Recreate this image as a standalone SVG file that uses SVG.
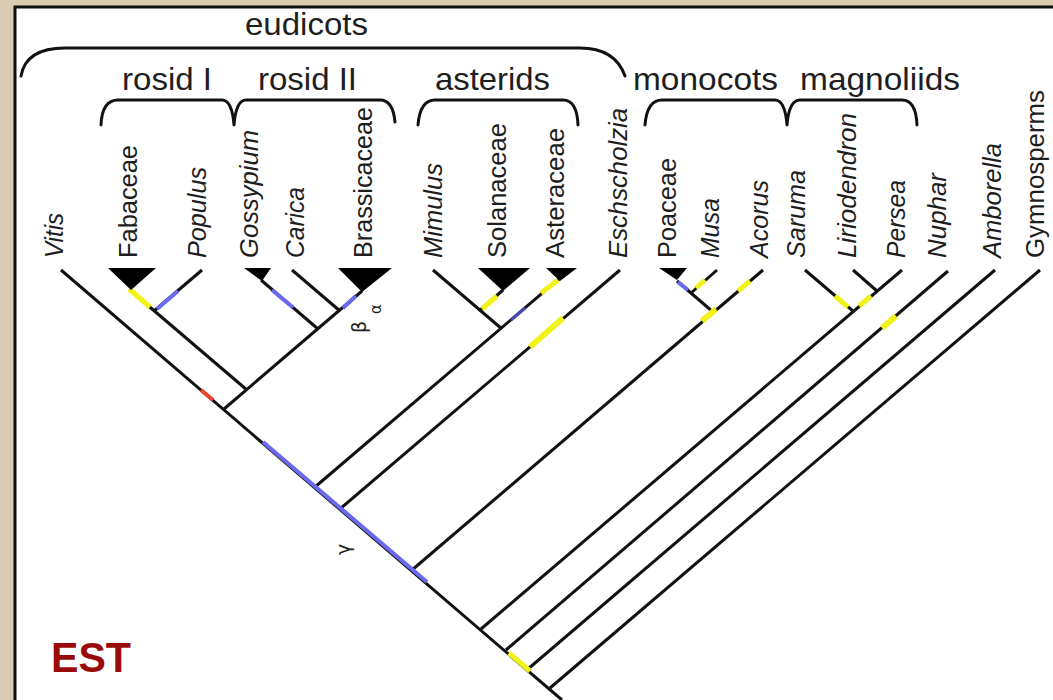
<svg xmlns="http://www.w3.org/2000/svg" width="1053" height="700" viewBox="0 0 1053 700">
<defs>
<style>
.bg{fill:#d9ccb2}
.panel{fill:#ffffff;stroke:#111;stroke-width:3}
.hdr{font-family:"Liberation Sans",Arial,sans-serif;font-size:32px;fill:#1e1e1e}
.tx{font-family:"Liberation Sans",Arial,sans-serif;font-size:25px;fill:#1e1e1e}
.it{font-style:italic}
.gr{font-family:"DejaVu Sans","Liberation Sans",sans-serif;fill:#222}
.br{fill:none;stroke:#111;stroke-width:3;stroke-linecap:round;stroke-linejoin:round}
.ln{fill:none;stroke:#111;stroke-width:3;stroke-linecap:butt}
.tri{fill:#000}
.bl{stroke:#6a6af0;stroke-width:4;fill:none}
.ye{stroke:#f2f21a;stroke-width:5;fill:none}
.rd{stroke:#e8442c;stroke-width:4;fill:none}
.est{font-family:"Liberation Sans",Arial,sans-serif;font-weight:bold;font-size:42px;fill:#9a0a0a}
</style>
</defs>
<rect class="bg" x="0" y="0" width="1053" height="700"/>
<rect class="panel" x="15" y="7" width="1050" height="700"/>

<g id="clade-eudicots">
<path class="br" d="M21,76 Q26,48 65,48 L580,48 Q615,48 625,76"/>
<text class="hdr" x="245" y="35" textLength="123" lengthAdjust="spacingAndGlyphs">eudicots</text>
</g>
<g id="clade-rosids">
<path class="br" d="M101,125 Q102,100 118,100 L222,100 Q232,100 234,125 Q236,100 246,100 L380,100 Q393,100 395,122"/>
<text class="hdr" x="122" y="90" textLength="90" lengthAdjust="spacingAndGlyphs">rosid I</text>
<text class="hdr" x="258" y="90" textLength="99" lengthAdjust="spacingAndGlyphs">rosid II</text>
</g>
<g id="clade-asterids">
<path class="br" d="M418,125 Q420,100 435,100 L563,100 Q577,100 578,125"/>
<text class="hdr" x="435" y="90" textLength="115" lengthAdjust="spacingAndGlyphs">asterids</text>
</g>
<g id="clade-monocots-magnoliids">
<path class="br" d="M645,125 Q647,100 662,100 L775,100 Q785,100 787,125 Q789,100 800,100 L902,100 Q916,100 917,125"/>
<text class="hdr" x="633" y="90" textLength="145" lengthAdjust="spacingAndGlyphs">monocots</text>
<text class="hdr" x="800" y="90" textLength="160" lengthAdjust="spacingAndGlyphs">magnoliids</text>
</g>

<g id="connectors">
<path class="ln" d="M61,270 L562,700"/>
<path class="ln" d="M224,409 L362,291"/>
<path class="ln" d="M247,390 L131,291"/>
<path class="ln" d="M154,311 L202,270"/>
<path class="ln" d="M318,329 L261,280"/>
<path class="ln" d="M340,311 L292,270"/>
<path class="ln" d="M315,487 L560,278"/>
<path class="ln" d="M433,270 L502,329"/>
<path class="ln" d="M479,311 L503,290"/>
<path class="ln" d="M340,509 L620,270"/>
<path class="ln" d="M412,570 L763,270"/>
<path class="ln" d="M713,312 L677,281"/>
<path class="ln" d="M691,293 L717,270"/>
<path class="ln" d="M481,629 L902,270"/>
<path class="ln" d="M805,270 L853,311"/>
<path class="ln" d="M853,270 L877,291"/>
<path class="ln" d="M506,650 L948,271"/>
<path class="ln" d="M528,669 L995,270"/>
<path class="ln" d="M550,688 L1040,270"/>
<!-- coloured marks -->
<path class="rd" d="M201,390 L213,400"/>
<path class="bl" d="M263,442 L427,582"/>
<path class="ye" d="M509,653 L530,671"/>
<path class="ye" d="M129,289 L150,307"/>
<path class="bl" d="M157,309 L178,291"/>
<path class="bl" d="M272,290 L293,307.5"/>
<path class="bl" d="M343,308 L356,296"/>
<path class="ye" d="M482,309 L497,296"/>
<path class="ye" d="M541,293 L558,280"/>
<path class="bl" d="M511,320 L525,308" style="stroke:#4a4ab0;stroke-width:3"/>
<path class="ye" d="M530,347 L563,318" style="stroke-width:6"/>
<path class="bl" d="M678,282 L688,290"/>
<path class="ye" d="M696,288 L705,280"/>
<path class="ye" d="M738,291 L750,281"/>
<path class="ye" d="M702,321 L716,309" style="stroke-width:6"/>
<path class="ye" d="M835,296 L848,307"/>
<path class="ye" d="M859,306 L871,296"/>
<path class="ye" d="M882,328 L896,316" style="stroke-width:6"/>
</g>

<g id="marks">
<text class="gr" font-size="19" transform="translate(366,333) rotate(-90)">β</text>
<text class="gr" font-size="15" transform="translate(381,314) rotate(-90)">α</text>
<text class="gr" font-size="19" transform="translate(350,555) rotate(-90)">γ</text>
</g>

<g id="taxon-vitis"><text class="tx it" transform="translate(63,258) rotate(-90)" textLength="45" lengthAdjust="spacingAndGlyphs">Vitis</text></g>
<g id="taxon-fabaceae"><polygon class="tri" points="108,268 156,268 131,290"/><text class="tx" transform="translate(137,258) rotate(-90)" textLength="113" lengthAdjust="spacingAndGlyphs">Fabaceae</text></g>
<g id="taxon-populus"><text class="tx it" transform="translate(206,258) rotate(-90)" textLength="91" lengthAdjust="spacingAndGlyphs">Populus</text></g>
<g id="taxon-gossypium"><polygon class="tri" points="244,268 271,268 262,281"/><text class="tx it" transform="translate(258,258) rotate(-90)" textLength="128" lengthAdjust="spacingAndGlyphs">Gossypium</text></g>
<g id="taxon-carica"><text class="tx it" transform="translate(304,258) rotate(-90)" textLength="71" lengthAdjust="spacingAndGlyphs">Carica</text></g>
<g id="taxon-brassicaceae"><polygon class="tri" points="338,268 392,268 362,292"/><text class="tx" transform="translate(372,258) rotate(-90)" textLength="151" lengthAdjust="spacingAndGlyphs">Brassicaceae</text></g>
<g id="taxon-mimulus"><text class="tx it" transform="translate(442,258) rotate(-90)" textLength="95" lengthAdjust="spacingAndGlyphs">Mimulus</text></g>
<g id="taxon-solanaceae"><polygon class="tri" points="478,268 530,268 503,291"/><text class="tx" transform="translate(506,258) rotate(-90)" textLength="135" lengthAdjust="spacingAndGlyphs">Solanaceae</text></g>
<g id="taxon-asteraceae"><polygon class="tri" points="546,268 577,268 560,281"/><text class="tx" transform="translate(564,258) rotate(-90)" textLength="130" lengthAdjust="spacingAndGlyphs">Asteraceae</text></g>
<g id="taxon-eschscholzia"><text class="tx it" transform="translate(627,258) rotate(-90)" textLength="150" lengthAdjust="spacingAndGlyphs">Eschscholzia</text></g>
<g id="taxon-poaceae"><polygon class="tri" points="659,268 687,268 677,280"/><text class="tx" transform="translate(676,258) rotate(-90)" textLength="100" lengthAdjust="spacingAndGlyphs">Poaceae</text></g>
<g id="taxon-musa"><text class="tx it" transform="translate(719,258) rotate(-90)" textLength="60" lengthAdjust="spacingAndGlyphs">Musa</text></g>
<g id="taxon-acorus"><text class="tx it" transform="translate(768,258) rotate(-90)" textLength="78" lengthAdjust="spacingAndGlyphs">Acorus</text></g>
<g id="taxon-saruma"><text class="tx it" transform="translate(805,258) rotate(-90)" textLength="88" lengthAdjust="spacingAndGlyphs">Saruma</text></g>
<g id="taxon-liriodendron"><text class="tx it" transform="translate(856,258) rotate(-90)" textLength="145" lengthAdjust="spacingAndGlyphs">Liriodendron</text></g>
<g id="taxon-persea"><text class="tx it" transform="translate(905,258) rotate(-90)" textLength="78" lengthAdjust="spacingAndGlyphs">Persea</text></g>
<g id="taxon-nuphar"><text class="tx it" transform="translate(946,258) rotate(-90)" textLength="85" lengthAdjust="spacingAndGlyphs">Nuphar</text></g>
<g id="taxon-amborella"><text class="tx it" transform="translate(1001,258) rotate(-90)" textLength="115" lengthAdjust="spacingAndGlyphs">Amborella</text></g>
<g id="taxon-gymnosperms"><text class="tx" transform="translate(1044,258) rotate(-90)" textLength="168" lengthAdjust="spacingAndGlyphs">Gymnosperms</text></g>

<g id="label-est"><text class="est" x="51" y="672" textLength="80" lengthAdjust="spacingAndGlyphs">EST</text></g>
</svg>
